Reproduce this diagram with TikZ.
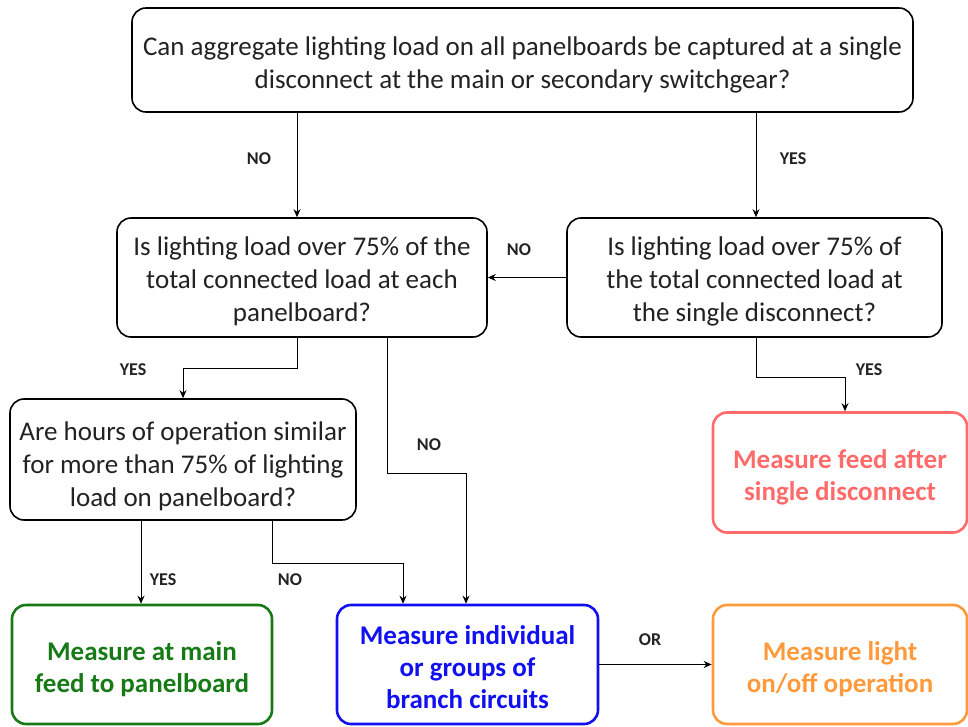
\documentclass[tikz,border=0pt]{standalone}
\usepackage{fontspec}
\setmainfont{Carlito}
\usetikzlibrary{arrows.meta,calc}
\definecolor{cgreen}{HTML}{177A17}
\definecolor{cred}{HTML}{FF6B6B}
\definecolor{cblue}{HTML}{1010F0}
\definecolor{corange}{HTML}{FF9A3C}
\definecolor{ctext}{HTML}{222222}
\tikzset{
  qbox/.style={draw=black, line width=1.6pt, rounded corners=14pt, inner sep=0pt},
  qtext/.style={align=center, inner sep=0pt, font=\fontsize{27}{33}\selectfont, text=ctext},
  abox/.style={draw=#1, line width=2.6pt, rounded corners=14pt, inner sep=0pt},
  atext/.style={align=center, inner sep=0pt, font=\fontsize{27}{32}\selectfont\bfseries, text=#1},
  arr/.style={draw=black, line width=1pt, -{Stealth[length=8pt,width=7pt]}},
  lbl/.style={font=\fontsize{18}{20}\selectfont\bfseries, text=ctext}
}
\begin{document}
\begin{tikzpicture}[x=1pt,y=-1pt]
\useasboundingbox (0,0) rectangle (968,727);
\node[qbox, minimum width=781pt, minimum height=104pt,
  label={[qtext, yshift=-4.5pt]center:{Can aggregate lighting load on all panelboards be captured at a single\\ disconnect at the main or secondary switchgear?}}] (top) at (522.5,60) {};
\node[qbox, minimum width=370pt, minimum height=119pt,
  label={[qtext, yshift=-3.5pt]center:{Is lighting load over 75\% of the\\ total connected load at each\\ panelboard?}}] (q1) at (302,277.5) {};
\node[qbox, minimum width=375pt, minimum height=119pt,
  label={[qtext, yshift=-3.5pt]center:{Is lighting load over 75\% of\\ the total connected load at\\ the single disconnect?}}] (q2) at (754.5,277.5) {};
\node[qbox, minimum width=346pt, minimum height=121pt,
  label={[qtext, yshift=-6.5pt]center:{Are hours of operation similar\\ for more than 75\% of lighting\\ load on panelboard?}}] (q3) at (183,459.5) {};
\node[abox=cred, minimum width=254pt, minimum height=120pt,
  label={[atext=cred, yshift=-5pt]center:{Measure feed after\\ single disconnect}}] (red) at (840,472.5) {};
\node[abox=cgreen, minimum width=260pt, minimum height=119pt,
  label={[atext=cgreen, yshift=-5pt]center:{Measure at main\\ feed to panelboard}}] (green) at (142,664.5) {};
\node[abox=cblue, minimum width=261pt, minimum height=119pt,
  label={[atext=cblue, yshift=-2.5pt]center:{Measure individual\\ or groups of\\ branch circuits}}] (blue) at (467.5,664.5) {};
\node[abox=corange, minimum width=254pt, minimum height=119pt,
  label={[atext=corange, yshift=-5pt]center:{Measure light\\ on/off operation}}] (orange) at (840,664.5) {};

\coordinate (x297) at (297,0);
\coordinate (x756) at (756,0);
\coordinate (x387) at (387,0);
\coordinate (x183) at (183,0);
\coordinate (x466) at (466,0);
\coordinate (x845) at (845,0);
\coordinate (x141) at (141,0);
\coordinate (x272) at (272,0);
\coordinate (x403) at (403,0);

\draw[arr] (top.south -| x297) -- (q1.north -| x297);
\node[lbl] (l1) at (259,159) {NO};
\draw[arr] (top.south -| x756) -- (q2.north -| x756);
\node[lbl] (l2) at (793,159) {YES};
\draw[arr] (q2.west) -- (q1.east);
\node[lbl] (l3) at (519,250) {NO};
\draw[arr] (q1.south -| x297) |- (183,368) -- (q3.north -| x183);
\node[lbl] (l4) at (133,370) {YES};
\draw[arr] (q1.south -| x387) |- (466,473) -- (blue.north -| x466);
\node[lbl] (l5) at (429,445) {NO};
\draw[arr] (q2.south -| x756) |- (845,377) -- (red.north -| x845);
\node[lbl] (l6) at (869,370) {YES};
\draw[arr] (q3.south -| x141) -- (green.north -| x141);
\node[lbl] (l7) at (163,580) {YES};
\draw[arr] (q3.south -| x272) |- (403,563) -- (blue.north -| x403);
\node[lbl] (l8) at (290,580) {NO};
\draw[arr] (blue.east) -- (orange.west);
\node[lbl] (l9) at (650,640) {OR};
\end{tikzpicture}
\end{document}
